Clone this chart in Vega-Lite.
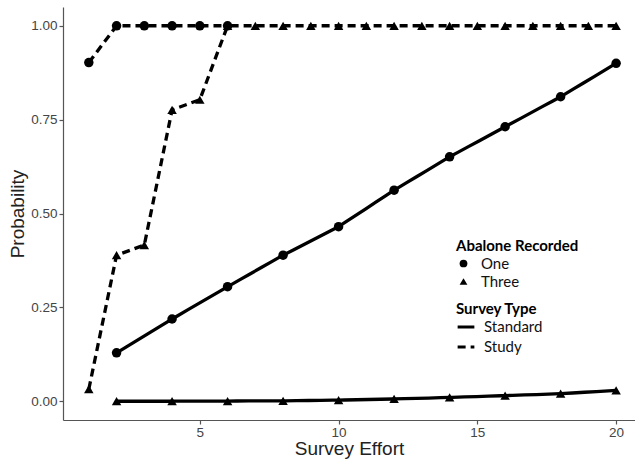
{
  "$schema": "https://vega.github.io/schema/vega-lite/v6.json",
  "width": 572,
  "height": 413,
  "autosize": {"type": "none"},
  "padding": {"left": 63, "top": 7, "right": 0, "bottom": 41},
  "background": "white",
  "config": {
    "view": {"stroke": null},
    "axis": {"grid": false, "domainColor": "#555", "tickColor": "#555", "domainWidth": 1.2, "tickWidth": 1.2, "tickSize": 4, "labelFont": "Liberation Sans", "labelFontSize": 13.5, "labelColor": "#444", "titleFont": "Liberation Sans", "titleFontSize": 19, "titleFontWeight": "normal", "titleColor": "#222"}
  },
  "data": {"values": [
    {"effort": 2, "prob": 0.129, "count": "One", "type": "Standard", "series": "Standard-One"},
    {"effort": 4, "prob": 0.219, "count": "One", "type": "Standard", "series": "Standard-One"},
    {"effort": 6, "prob": 0.305, "count": "One", "type": "Standard", "series": "Standard-One"},
    {"effort": 8, "prob": 0.389, "count": "One", "type": "Standard", "series": "Standard-One"},
    {"effort": 10, "prob": 0.465, "count": "One", "type": "Standard", "series": "Standard-One"},
    {"effort": 12, "prob": 0.562, "count": "One", "type": "Standard", "series": "Standard-One"},
    {"effort": 14, "prob": 0.651, "count": "One", "type": "Standard", "series": "Standard-One"},
    {"effort": 16, "prob": 0.731, "count": "One", "type": "Standard", "series": "Standard-One"},
    {"effort": 18, "prob": 0.811, "count": "One", "type": "Standard", "series": "Standard-One"},
    {"effort": 20, "prob": 0.900, "count": "One", "type": "Standard", "series": "Standard-One"},
    {"effort": 2, "prob": 0.0, "count": "Three", "type": "Standard", "series": "Standard-Three"},
    {"effort": 4, "prob": 0.0, "count": "Three", "type": "Standard", "series": "Standard-Three"},
    {"effort": 6, "prob": 0.0005, "count": "Three", "type": "Standard", "series": "Standard-Three"},
    {"effort": 8, "prob": 0.001, "count": "Three", "type": "Standard", "series": "Standard-Three"},
    {"effort": 10, "prob": 0.003, "count": "Three", "type": "Standard", "series": "Standard-Three"},
    {"effort": 12, "prob": 0.006, "count": "Three", "type": "Standard", "series": "Standard-Three"},
    {"effort": 14, "prob": 0.010, "count": "Three", "type": "Standard", "series": "Standard-Three"},
    {"effort": 16, "prob": 0.015, "count": "Three", "type": "Standard", "series": "Standard-Three"},
    {"effort": 18, "prob": 0.020, "count": "Three", "type": "Standard", "series": "Standard-Three"},
    {"effort": 20, "prob": 0.029, "count": "Three", "type": "Standard", "series": "Standard-Three"},
    {"effort": 1, "prob": 0.902, "count": "One", "type": "Study", "series": "Study-One"},
    {"effort": 2, "prob": 1.0, "count": "One", "type": "Study", "series": "Study-One"},
    {"effort": 3, "prob": 1.0, "count": "One", "type": "Study", "series": "Study-One"},
    {"effort": 4, "prob": 1.0, "count": "One", "type": "Study", "series": "Study-One"},
    {"effort": 5, "prob": 1.0, "count": "One", "type": "Study", "series": "Study-One"},
    {"effort": 6, "prob": 1.0, "count": "One", "type": "Study", "series": "Study-One"},
    {"effort": 1, "prob": 0.032, "count": "Three", "type": "Study", "series": "Study-Three"},
    {"effort": 2, "prob": 0.389, "count": "Three", "type": "Study", "series": "Study-Three"},
    {"effort": 3, "prob": 0.416, "count": "Three", "type": "Study", "series": "Study-Three"},
    {"effort": 4, "prob": 0.776, "count": "Three", "type": "Study", "series": "Study-Three"},
    {"effort": 5, "prob": 0.803, "count": "Three", "type": "Study", "series": "Study-Three"},
    {"effort": 6, "prob": 1.0, "count": "Three", "type": "Study", "series": "Study-Three"},
    {"effort": 7, "prob": 1.0, "count": "Three", "type": "Study", "series": "Study-Three"},
    {"effort": 8, "prob": 1.0, "count": "Three", "type": "Study", "series": "Study-Three"},
    {"effort": 9, "prob": 1.0, "count": "Three", "type": "Study", "series": "Study-Three"},
    {"effort": 10, "prob": 1.0, "count": "Three", "type": "Study", "series": "Study-Three"},
    {"effort": 11, "prob": 1.0, "count": "Three", "type": "Study", "series": "Study-Three"},
    {"effort": 12, "prob": 1.0, "count": "Three", "type": "Study", "series": "Study-Three"},
    {"effort": 13, "prob": 1.0, "count": "Three", "type": "Study", "series": "Study-Three"},
    {"effort": 14, "prob": 1.0, "count": "Three", "type": "Study", "series": "Study-Three"},
    {"effort": 15, "prob": 1.0, "count": "Three", "type": "Study", "series": "Study-Three"},
    {"effort": 16, "prob": 1.0, "count": "Three", "type": "Study", "series": "Study-Three"},
    {"effort": 17, "prob": 1.0, "count": "Three", "type": "Study", "series": "Study-Three"},
    {"effort": 18, "prob": 1.0, "count": "Three", "type": "Study", "series": "Study-Three"},
    {"effort": 19, "prob": 1.0, "count": "Three", "type": "Study", "series": "Study-Three"},
    {"effort": 20, "prob": 1.0, "count": "Three", "type": "Study", "series": "Study-Three"}
  ]},
  "encoding": {
    "x": {"field": "effort", "type": "quantitative", "title": "Survey Effort",
      "scale": {"domain": [0.07, 20.68], "nice": false, "zero": false},
      "axis": {"values": [5, 10, 15, 20], "labelPadding": 1, "titlePadding": 1}},
    "y": {"field": "prob", "type": "quantitative", "title": "Probability",
      "scale": {"domain": [-0.05, 1.05], "nice": false, "zero": false},
      "axis": {"values": [0, 0.25, 0.5, 0.75, 1], "format": ".2f", "labelPadding": 2, "titlePadding": 3}}
  },
  "layer": [
    {
      "mark": {"type": "line", "color": "black", "strokeWidth": 3.3},
      "encoding": {
        "detail": {"field": "series", "type": "nominal"},
        "strokeDash": {"field": "type", "type": "nominal", "title": "Survey Type",
          "scale": {"domain": ["Standard", "Study"], "range": [[12, 0], [8, 5]]},
          "legend": {"orient": "none", "legendX": 393, "legendY": 295, "titleFont": "Lato", "titleFontSize": 15, "titleFontWeight": "bold", "titleColor": "black", "labelFont": "Lato", "labelFontSize": 15, "labelColor": "#111", "symbolStrokeWidth": 3, "symbolStrokeColor": "black", "symbolSize": 280, "labelOffset": 8, "rowPadding": 2, "titlePadding": 0}}
      }
    },
    {
      "mark": {"type": "point", "filled": true, "color": "black", "opacity": 1, "size": 90},
      "encoding": {
        "shape": {"field": "count", "type": "nominal", "title": "Abalone Recorded",
          "scale": {"domain": ["One", "Three"], "range": ["circle", "triangle-up"]},
          "legend": {"orient": "none", "legendX": 393, "legendY": 232, "titleFont": "Lato", "titleFontSize": 15, "titleFontWeight": "bold", "titleColor": "black", "labelFont": "Lato", "labelFontSize": 15, "labelColor": "#111", "symbolFillColor": "black", "symbolStrokeColor": "black", "symbolSize": 60, "labelOffset": 10, "rowPadding": 2, "titlePadding": 2}}
      }
    }
  ]
}
